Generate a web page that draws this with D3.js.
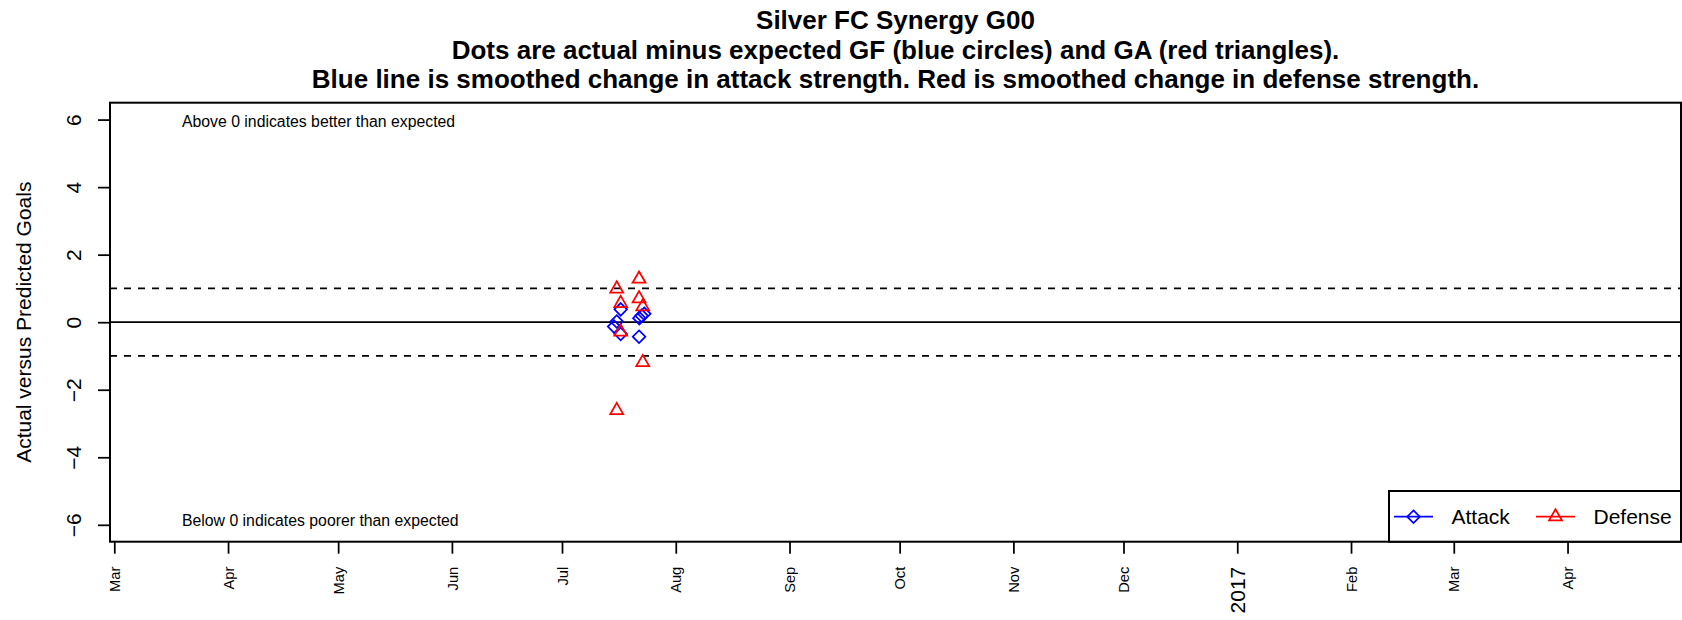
<!DOCTYPE html>
<html>
<head>
<meta charset="utf-8">
<script src="https://cdnjs.cloudflare.com/ajax/libs/d3/7.8.5/d3.min.js"></script>
<style>
    body { margin: 0; background: #fff; }
    text { font-family: "Liberation Sans", Arial, Helvetica, sans-serif; }
</style>
</head>
<body>
<svg id="chart" width="1682" height="620"></svg>
<script>
// actual minus expected goals for (blue diamonds)
var attackDates = ["2016-07-15T05:00", "2016-07-15T22:00", "2016-07-17T00:00", "2016-07-17T00:00",
                   "2016-07-22T00:00", "2016-07-22T02:00", "2016-07-22T17:00", "2016-07-23T10:00"];
var attackValues = [-0.13, 0.02, 0.38, -0.35, -0.43, 0.12, 0.19, 0.25];

// actual minus expected goals against (red triangles)
var defenseDates = ["2016-07-15T22:00", "2016-07-15T22:00", "2016-07-17T00:00", "2016-07-17T00:00",
                    "2016-07-22T00:00", "2016-07-22T00:00", "2016-07-23T00:00", "2016-07-23T00:00"];
var defenseValues = [0.99, -2.61, 0.56, -0.29, 1.28, 0.70, 0.46, -1.19];

var yTicks = [-6, -4, -2, 0, 2, 4, 6];
var refLines = [-1, 1];
var titleLines = [
    "Silver FC Synergy G00",
    "Dots are actual minus expected GF (blue circles) and GA (red triangles).",
    "Blue line is smoothed change in attack strength. Red is smoothed change in defense strength."
];
var legendItems = [
    {label: "Attack", color: "#0000ff", shape: "diamond"},
    {label: "Defense", color: "#ff0000", shape: "triangle"}
];

(function () {
    var svg = d3.select("#chart");
    var box = {left: 110, right: 1681, top: 102.7, bottom: 541.7};
    var lw = 1.75;
    var parse = d3.timeParse("%Y-%m-%dT%H:%M");

    var x = d3.scaleTime()
        .domain([new Date(2016, 1, 28, 20), new Date(2017, 4, 1, 22)])
        .range([box.left, box.right]);

    var y = d3.scaleLinear()
        .domain([-6.5, 6.5])
        .range([box.bottom, box.top]);

    // R style point symbols (pch 5 and pch 2)
    var R = 4.8;
    function diamond(cx, cy) {
        var h = 6.3;
        return "M" + cx + "," + (cy - h) + "L" + (cx + h) + "," + cy + "L" + cx + "," + (cy + h) +
            "L" + (cx - h) + "," + cy + "Z";
    }
    function triangle(cx, cy) {
        var r = 1.555 * R, xc = 1.347 * R, yc = 0.778 * R;
        return "M" + cx + "," + (cy - r) + "L" + (cx + xc) + "," + (cy + yc) + "L" + (cx - xc) + "," + (cy + yc) + "Z";
    }

    // titles
    svg.append("g").selectAll("text")
        .data(titleLines)
        .enter().append("text")
        .attr("x", (box.left + box.right) / 2)
        .attr("y", function (d, i) { return [29, 58.5, 87.5][i]; })
        .attr("text-anchor", "middle")
        .attr("font-size", "26px")
        .attr("font-weight", "bold")
        .text(function (d) { return d; });

    // reference lines
    svg.append("line")
        .attr("x1", box.left).attr("x2", box.right)
        .attr("y1", y(0)).attr("y2", y(0))
        .attr("stroke", "#000").attr("stroke-width", lw);

    svg.append("g").selectAll("line")
        .data(refLines)
        .enter().append("line")
        .attr("x1", box.left).attr("x2", box.right)
        .attr("y1", function (d) { return y(d); })
        .attr("y2", function (d) { return y(d); })
        .attr("stroke", "#000").attr("stroke-width", lw)
        .attr("stroke-dasharray", "7,7");

    // notes
    svg.append("text")
        .attr("x", 182).attr("y", y(6) + 7.7)
        .attr("font-size", "15.8px")
        .text("Above 0 indicates better than expected");
    svg.append("text")
        .attr("x", 182).attr("y", y(-6) + 0.8)
        .attr("font-size", "15.8px")
        .text("Below 0 indicates poorer than expected");

    // points
    svg.append("g").selectAll("path")
        .data(attackDates.map(function (d, i) { return {date: parse(d), value: attackValues[i]}; }))
        .enter().append("path")
        .attr("d", function (d) { return diamond(x(d.date), y(d.value)); })
        .attr("fill", "none").attr("stroke", "#0000ff").attr("stroke-width", lw);

    svg.append("g").selectAll("path")
        .data(defenseDates.map(function (d, i) { return {date: parse(d), value: defenseValues[i]}; }))
        .enter().append("path")
        .attr("d", function (d) { return triangle(x(d.date), y(d.value)); })
        .attr("fill", "none").attr("stroke", "#ff0000").attr("stroke-width", lw);

    // y axis
    var yAxis = svg.append("g")
        .attr("transform", "translate(" + box.left + ",0)")
        .call(d3.axisLeft(y).tickValues(yTicks).tickSize(12).tickPadding(0)
            .tickFormat(function (d) { return d < 0 ? "\u2212" + Math.abs(d) : d; }));
    yAxis.select(".domain").remove();
    yAxis.selectAll(".tick line").attr("stroke-width", lw);
    yAxis.selectAll(".tick text")
        .attr("x", null).attr("dy", null)
        .attr("transform", "translate(-29,0) rotate(-90)")
        .attr("text-anchor", "middle")
        .attr("font-size", "21px")
        .attr("font-family", null);

    svg.append("text")
        .attr("transform", "translate(31," + ((box.top + box.bottom) / 2) + ") rotate(-90)")
        .attr("text-anchor", "middle")
        .attr("font-size", "21px")
        .text("Actual versus Predicted Goals");

    // x axis
    var months = d3.timeMonth.range(new Date(2016, 2, 1), new Date(2017, 4, 1));
    var xAxis = svg.append("g")
        .attr("transform", "translate(0," + box.bottom + ")")
        .call(d3.axisBottom(x).tickValues(months).tickSize(12).tickPadding(0)
            .tickFormat(function (d) { return d.getMonth() === 0 ? d3.timeFormat("%Y")(d) : d3.timeFormat("%b")(d); }));
    xAxis.select(".domain").remove();
    xAxis.selectAll(".tick line").attr("stroke-width", lw);
    xAxis.selectAll(".tick text")
        .attr("y", null).attr("dy", null)
        .attr("transform", "translate(0,25) rotate(-90)")
        .attr("text-anchor", "end")
        .attr("dy", "0.35em")
        .attr("font-family", null)
        .attr("font-size", function (d) { return d.getMonth() === 0 ? "21px" : "14.7px"; });

    // plot border
    svg.append("rect")
        .attr("x", box.left).attr("y", box.top)
        .attr("width", box.right - box.left).attr("height", box.bottom - box.top)
        .attr("fill", "none").attr("stroke", "#000").attr("stroke-width", 2);

    // legend
    var lg = svg.append("g");
    lg.append("rect")
        .attr("x", 1389).attr("y", 491)
        .attr("width", box.right - 1389).attr("height", box.bottom - 491)
        .attr("fill", "#fff").attr("stroke", "#000").attr("stroke-width", 2);
    var item = lg.selectAll("g.item")
        .data(legendItems)
        .enter().append("g")
        .attr("class", "item")
        .attr("transform", function (d, i) { return "translate(" + (1394 + i * 142) + ",516.7)"; });
    item.append("line")
        .attr("x1", 0).attr("x2", 39)
        .attr("stroke", function (d) { return d.color; }).attr("stroke-width", lw);
    item.append("path")
        .attr("d", function (d) { return d.shape === "diamond" ? diamond(19.5, 0) : triangle(19.5, 0); })
        .attr("fill", "none")
        .attr("stroke", function (d) { return d.color; }).attr("stroke-width", lw);
    item.append("text")
        .attr("x", 57.5).attr("y", 7)
        .attr("font-size", "21px")
        .text(function (d) { return d.label; });
})();
</script>
</body>
</html>
